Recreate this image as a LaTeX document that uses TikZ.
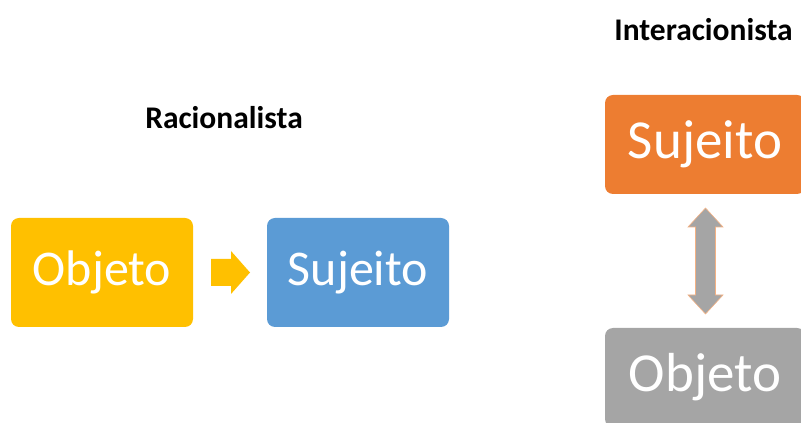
\documentclass[tikz,border=0pt]{standalone}
\usepackage{fontspec}
\setmainfont{Carlito}
\definecolor{amarelo}{HTML}{FFC000}
\definecolor{azul}{HTML}{5B9BD5}
\definecolor{laranja}{HTML}{ED7D31}
\definecolor{cinza}{HTML}{A5A5A5}
\definecolor{contorno}{HTML}{F4B183}
\tikzset{
  caixa/.style={rounded corners=8pt, minimum height=109pt, minimum width=182pt,
    text=white, font=\fontsize{50}{54}\selectfont, inner sep=0pt},
  caixagrande/.style={caixa, minimum width=200pt, minimum height=99pt,
    font=\fontsize{55}{60}\selectfont},
  titulo/.style={font=\fontsize{31.5}{36}\selectfont\bfseries, inner sep=0pt}
}
\begin{document}
\begin{tikzpicture}[x=1pt,y=1pt]
    \useasboundingbox (0,0) rectangle (801,423);
    \clip (0,0) rectangle (801,423);

    % Racionalista: objeto -> sujeito
    \node[titulo] (tRac) at (224,305) {Racionalista};
    \node[caixa, fill=amarelo] (obj1) at (102,150.5) {Objeto};
    \node[caixa, fill=azul] (suj1) at (358,150.5) {Sujeito};
    \fill[amarelo] (211,137) -- (231,137) -- (231,129) -- (250,150.5)
        -- (231,172) -- (231,164) -- (211,164) -- cycle;

    % Interacionista: sujeito <-> objeto
    \node[titulo] (tInt) at (703.5,393) {Interacionista};
    \node[caixagrande, fill=laranja] (suj2) at (705,278.5) {Sujeito};
    \node[caixagrande, fill=cinza] (obj2) at (705,45.5) {Objeto};
    \filldraw[fill=cinza, draw=contorno, line width=0.6pt]
        (705.5,215) -- (723,196) -- (715.5,196) -- (715.5,128) -- (723,128)
        -- (705.5,109) -- (688,128) -- (695.5,128) -- (695.5,196) -- (688,196) -- cycle;
\end{tikzpicture}
\end{document}
